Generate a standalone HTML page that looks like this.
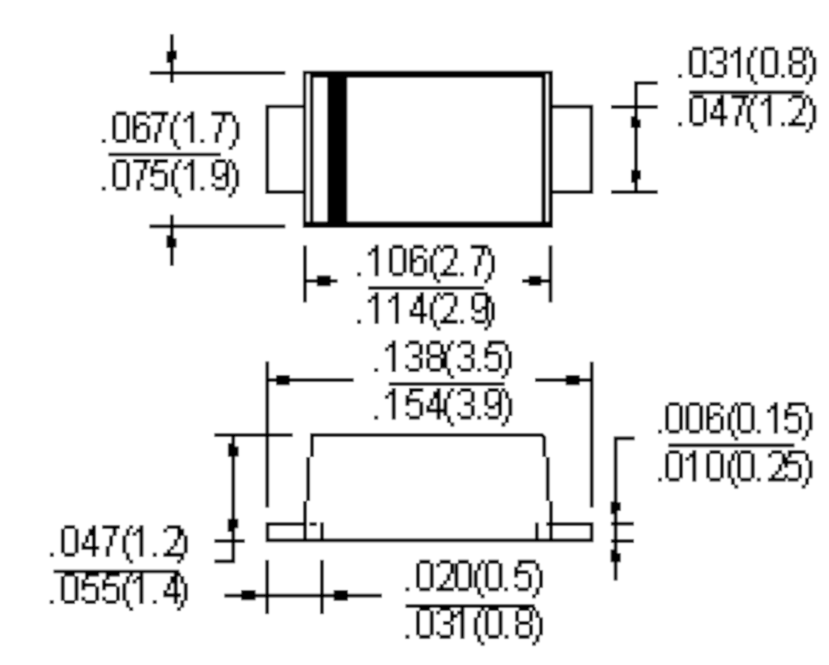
<!DOCTYPE html>
<html><head><meta charset="utf-8"><style>
html,body{margin:0;padding:0;background:#fff;width:829px;height:665px;overflow:hidden}
svg{display:block}
</style></head><body>
<svg width="829" height="665" viewBox="0 0 829 665">
<defs>
<g id="L" stroke-linejoin="miter" stroke-linecap="butt">
<polyline points="171.8,34.2 171.8,83"/>
<polyline points="149.8,72.8 285.3,72.8"/>
<polyline points="149.5,226.3 285.3,226.3"/>
<polyline points="171.8,214.7 171.8,265.8"/>
<polyline points="108.5,154.5 221,154.5"/>
<polyline points="304.5,106.5 267.3,106.5 267.3,192.1 304.5,192.1"/>
<polyline points="551,106.7 591.4,106.7 591.4,192.1 551,192.1"/>
<polyline points="636,192.2 636,83 657.7,83"/>
<polyline points="611.1,106.9 657.7,106.9"/>
<polyline points="611.1,192.2 657.7,192.2"/>
<polyline points="689.2,92.4 804.3,92.4"/>
<polyline points="304.9,245.5 304.9,302.4"/>
<polyline points="550.5,245.5 550.5,302.4"/>
<polyline points="304.9,281 337.5,281"/>
<polyline points="522,281 550.5,281"/>
<polyline points="368.2,288 484.2,288"/>
<polyline points="267.3,361.4 267.3,507.4"/>
<polyline points="591.7,361.8 591.7,507.4"/>
<polyline points="267.3,380.2 353.6,380.2"/>
<polyline points="535,380.2 591.7,380.2"/>
<polyline points="388.8,384 504.6,384"/>
<polyline points="312,457 312,435.1 542,435.1 544.3,437.4 544.3,457"/>
<polyline points="308.2,457 308.2,501"/>
<polyline points="305,501 305,540.4"/>
<polyline points="547.7,457 547.7,501"/>
<polyline points="551,501 551,540.4"/>
<polyline points="305,524.2 267.5,524.2 267.5,540.4 591.6,540.4 591.6,524.2 546.3,524.2"/>
<polyline points="309.5,524.2 316.7,524.2"/>
<polyline points="322,522.4 322,540.4"/>
<polyline points="536.8,522.6 536.8,540.4"/>
<polyline points="214.4,435.1 292.6,435.1"/>
<polyline points="214.5,561.4 233.3,561.4 233.3,435.1"/>
<polyline points="214.5,541 244.7,541"/>
<polyline points="53.6,571.5 179.3,571.5"/>
<polyline points="615.6,580.4 615.6,438.4 634.6,438.4"/>
<polyline points="610.9,523.7 633.9,523.7"/>
<polyline points="610.9,541.1 633.9,541.1"/>
<polyline points="668.4,445.3 794.4,445.3"/>
<polyline points="267.2,559.9 267.2,614.1"/>
<polyline points="321.9,559.9 321.9,614.1"/>
<polyline points="224.4,595.6 381.9,595.6"/>
<polyline points="405.6,606.2 534.6,606.2"/>
</g>
<g id="F">
<path d="M166.6 50.900000000000006H171.9V63.099999999999994H166.6zM171.9 50.6H176.9V59.5H171.9zM166.5 235.2H171.5V248.0H166.5zM171.5 238.29999999999998H176.5V247.5H171.5zM302.8 70.7H552.9V74.3H302.8zM302.8 224.4H552.9V227.9H302.8zM302.8 70.7H306.3V227.9H302.8zM548.6 70.7H552.9V227.9H548.6zM309.8 74.0H545.8V77.8H309.8zM302.8 221.4H552.9V224.7H302.8zM309.8 74.0H313.5V224.7H309.8zM541.5 74.0H545.8V224.7H541.5zM327.3 77H347.3V221.6H327.3zM630.8000000000001 116.3H636.0V128.1H630.8000000000001zM636.0 119.4H640.6999999999999V128.1H636.0zM631.0 169.79999999999998H636.0V182.70000000000002H631.0zM636.0 170.2H641.0V179.5H636.0zM316.8 275.6H330.7V286.2H316.8zM528.7 275.7H541.3V285.8H528.7zM276.0 374.9H289.7V385.2H276.0zM565.7 374.9H579.7V385.2H565.7zM227.89999999999998 443.2H233.3V456.8H227.89999999999998zM233.3 446.4H238.60000000000002V456.40000000000003H233.3zM227.7 518.7H233.3V532.0H227.7zM233.3 518.7H238.3V528.3H233.3zM610.6 501.5H615.6V514.3H610.6zM615.6 502.2H620.6999999999999V510.90000000000003H615.6zM610.6 549.6H615.6V562.3H610.6zM615.6 553.0H620.6999999999999V562.3H615.6zM241.2 589.9H255.5V600.3H241.2zM333.7 589.9H348.0V600.8H333.7z"/>
<path d="M101.80 139.15h3.85v3.85h-3.85zM115.75 111.55h10.75v3.85h-10.75zM112.30 115.00h3.85v3.85h-3.85zM126.10 115.00h3.85v3.85h-3.85zM112.30 118.45h3.85v3.85h-3.85zM126.10 118.45h3.85v3.85h-3.85zM112.30 121.90h3.85v3.85h-3.85zM126.10 121.90h3.85v3.85h-3.85zM112.30 125.35h3.85v3.85h-3.85zM126.10 125.35h3.85v3.85h-3.85zM112.30 128.80h3.85v3.85h-3.85zM126.10 128.80h3.85v3.85h-3.85zM112.30 132.25h3.85v3.85h-3.85zM126.10 132.25h3.85v3.85h-3.85zM112.30 135.70h3.85v3.85h-3.85zM126.10 135.70h3.85v3.85h-3.85zM115.75 139.15h10.75v3.85h-10.75zM136.05 111.55h10.75v3.85h-10.75zM132.60 115.00h3.85v3.85h-3.85zM146.40 115.00h3.85v3.85h-3.85zM132.60 118.45h3.85v3.85h-3.85zM132.60 121.90h3.85v3.85h-3.85zM139.50 121.90h7.30v3.85h-7.30zM132.60 125.35h7.30v3.85h-7.30zM146.40 125.35h3.85v3.85h-3.85zM132.60 128.80h3.85v3.85h-3.85zM146.40 128.80h3.85v3.85h-3.85zM132.60 132.25h3.85v3.85h-3.85zM146.40 132.25h3.85v3.85h-3.85zM132.60 135.70h3.85v3.85h-3.85zM146.40 135.70h3.85v3.85h-3.85zM136.05 139.15h10.75v3.85h-10.75zM150.80 111.55h17.65v3.85h-17.65zM161.15 115.00h3.85v3.85h-3.85zM161.15 118.45h3.85v3.85h-3.85zM157.70 121.90h3.85v3.85h-3.85zM157.70 125.35h3.85v3.85h-3.85zM157.70 128.80h3.85v3.85h-3.85zM154.25 132.25h3.85v3.85h-3.85zM154.25 135.70h3.85v3.85h-3.85zM154.25 139.15h3.85v3.85h-3.85zM176.80 111.55h3.85v3.85h-3.85zM173.35 115.00h3.85v3.85h-3.85zM173.35 118.45h3.85v3.85h-3.85zM169.90 121.90h3.85v3.85h-3.85zM169.90 125.35h3.85v3.85h-3.85zM169.90 128.80h3.85v3.85h-3.85zM169.90 132.25h3.85v3.85h-3.85zM169.90 135.70h3.85v3.85h-3.85zM173.35 139.15h3.85v3.85h-3.85zM173.35 142.60h3.85v3.85h-3.85zM176.80 146.05h3.85v3.85h-3.85zM190.40 111.55h3.85v3.85h-3.85zM186.95 115.00h7.30v3.85h-7.30zM183.50 118.45h3.85v3.85h-3.85zM190.40 118.45h3.85v3.85h-3.85zM190.40 121.90h3.85v3.85h-3.85zM190.40 125.35h3.85v3.85h-3.85zM190.40 128.80h3.85v3.85h-3.85zM190.40 132.25h3.85v3.85h-3.85zM190.40 135.70h3.85v3.85h-3.85zM190.40 139.15h3.85v3.85h-3.85zM200.40 139.15h3.85v3.85h-3.85zM211.30 111.55h17.65v3.85h-17.65zM221.65 115.00h3.85v3.85h-3.85zM221.65 118.45h3.85v3.85h-3.85zM218.20 121.90h3.85v3.85h-3.85zM218.20 125.35h3.85v3.85h-3.85zM218.20 128.80h3.85v3.85h-3.85zM214.75 132.25h3.85v3.85h-3.85zM214.75 135.70h3.85v3.85h-3.85zM214.75 139.15h3.85v3.85h-3.85zM228.70 111.55h3.85v3.85h-3.85zM232.15 115.00h3.85v3.85h-3.85zM232.15 118.45h3.85v3.85h-3.85zM235.60 121.90h3.85v3.85h-3.85zM235.60 125.35h3.85v3.85h-3.85zM235.60 128.80h3.85v3.85h-3.85zM235.60 132.25h3.85v3.85h-3.85zM235.60 135.70h3.85v3.85h-3.85zM232.15 139.15h3.85v3.85h-3.85zM232.15 142.60h3.85v3.85h-3.85zM228.70 146.05h3.85v3.85h-3.85z"/>
<path d="M101.80 186.65h3.85v3.85h-3.85zM115.75 159.05h10.75v3.85h-10.75zM112.30 162.50h3.85v3.85h-3.85zM126.10 162.50h3.85v3.85h-3.85zM112.30 165.95h3.85v3.85h-3.85zM126.10 165.95h3.85v3.85h-3.85zM112.30 169.40h3.85v3.85h-3.85zM126.10 169.40h3.85v3.85h-3.85zM112.30 172.85h3.85v3.85h-3.85zM126.10 172.85h3.85v3.85h-3.85zM112.30 176.30h3.85v3.85h-3.85zM126.10 176.30h3.85v3.85h-3.85zM112.30 179.75h3.85v3.85h-3.85zM126.10 179.75h3.85v3.85h-3.85zM112.30 183.20h3.85v3.85h-3.85zM126.10 183.20h3.85v3.85h-3.85zM115.75 186.65h10.75v3.85h-10.75zM133.00 159.05h17.65v3.85h-17.65zM143.35 162.50h3.85v3.85h-3.85zM143.35 165.95h3.85v3.85h-3.85zM139.90 169.40h3.85v3.85h-3.85zM139.90 172.85h3.85v3.85h-3.85zM139.90 176.30h3.85v3.85h-3.85zM136.45 179.75h3.85v3.85h-3.85zM136.45 183.20h3.85v3.85h-3.85zM136.45 186.65h3.85v3.85h-3.85zM153.85 159.05h14.20v3.85h-14.20zM153.85 162.50h3.85v3.85h-3.85zM150.40 165.95h3.85v3.85h-3.85zM150.40 169.40h14.20v3.85h-14.20zM150.40 172.85h3.85v3.85h-3.85zM164.20 172.85h3.85v3.85h-3.85zM164.20 176.30h3.85v3.85h-3.85zM164.20 179.75h3.85v3.85h-3.85zM150.40 183.20h3.85v3.85h-3.85zM164.20 183.20h3.85v3.85h-3.85zM153.85 186.65h10.75v3.85h-10.75zM177.80 159.05h3.85v3.85h-3.85zM174.35 162.50h3.85v3.85h-3.85zM174.35 165.95h3.85v3.85h-3.85zM170.90 169.40h3.85v3.85h-3.85zM170.90 172.85h3.85v3.85h-3.85zM170.90 176.30h3.85v3.85h-3.85zM170.90 179.75h3.85v3.85h-3.85zM170.90 183.20h3.85v3.85h-3.85zM174.35 186.65h3.85v3.85h-3.85zM174.35 190.10h3.85v3.85h-3.85zM177.80 193.55h3.85v3.85h-3.85zM190.50 159.05h3.85v3.85h-3.85zM187.05 162.50h7.30v3.85h-7.30zM183.60 165.95h3.85v3.85h-3.85zM190.50 165.95h3.85v3.85h-3.85zM190.50 169.40h3.85v3.85h-3.85zM190.50 172.85h3.85v3.85h-3.85zM190.50 176.30h3.85v3.85h-3.85zM190.50 179.75h3.85v3.85h-3.85zM190.50 183.20h3.85v3.85h-3.85zM190.50 186.65h3.85v3.85h-3.85zM200.50 186.65h3.85v3.85h-3.85zM214.95 159.05h10.75v3.85h-10.75zM211.50 162.50h3.85v3.85h-3.85zM225.30 162.50h3.85v3.85h-3.85zM211.50 165.95h3.85v3.85h-3.85zM225.30 165.95h3.85v3.85h-3.85zM211.50 169.40h3.85v3.85h-3.85zM225.30 169.40h3.85v3.85h-3.85zM211.50 172.85h3.85v3.85h-3.85zM221.85 172.85h7.30v3.85h-7.30zM214.95 176.30h7.30v3.85h-7.30zM225.30 176.30h3.85v3.85h-3.85zM225.30 179.75h3.85v3.85h-3.85zM211.50 183.20h3.85v3.85h-3.85zM225.30 183.20h3.85v3.85h-3.85zM214.95 186.65h10.75v3.85h-10.75zM228.40 159.05h3.85v3.85h-3.85zM231.85 162.50h3.85v3.85h-3.85zM231.85 165.95h3.85v3.85h-3.85zM235.30 169.40h3.85v3.85h-3.85zM235.30 172.85h3.85v3.85h-3.85zM235.30 176.30h3.85v3.85h-3.85zM235.30 179.75h3.85v3.85h-3.85zM235.30 183.20h3.85v3.85h-3.85zM231.85 186.65h3.85v3.85h-3.85zM231.85 190.10h3.85v3.85h-3.85zM228.40 193.55h3.85v3.85h-3.85z"/>
<path d="M678.20 74.25h3.85v3.85h-3.85zM692.25 46.65h10.75v3.85h-10.75zM688.80 50.10h3.85v3.85h-3.85zM702.60 50.10h3.85v3.85h-3.85zM688.80 53.55h3.85v3.85h-3.85zM702.60 53.55h3.85v3.85h-3.85zM688.80 57.00h3.85v3.85h-3.85zM702.60 57.00h3.85v3.85h-3.85zM688.80 60.45h3.85v3.85h-3.85zM702.60 60.45h3.85v3.85h-3.85zM688.80 63.90h3.85v3.85h-3.85zM702.60 63.90h3.85v3.85h-3.85zM688.80 67.35h3.85v3.85h-3.85zM702.60 67.35h3.85v3.85h-3.85zM688.80 70.80h3.85v3.85h-3.85zM702.60 70.80h3.85v3.85h-3.85zM692.25 74.25h10.75v3.85h-10.75zM712.95 46.65h10.75v3.85h-10.75zM709.50 50.10h3.85v3.85h-3.85zM723.30 50.10h3.85v3.85h-3.85zM723.30 53.55h3.85v3.85h-3.85zM723.30 57.00h3.85v3.85h-3.85zM716.40 60.45h7.30v3.85h-7.30zM723.30 63.90h3.85v3.85h-3.85zM723.30 67.35h3.85v3.85h-3.85zM709.50 70.80h3.85v3.85h-3.85zM723.30 70.80h3.85v3.85h-3.85zM712.95 74.25h10.75v3.85h-10.75zM737.10 46.65h3.85v3.85h-3.85zM733.65 50.10h7.30v3.85h-7.30zM730.20 53.55h3.85v3.85h-3.85zM737.10 53.55h3.85v3.85h-3.85zM737.10 57.00h3.85v3.85h-3.85zM737.10 60.45h3.85v3.85h-3.85zM737.10 63.90h3.85v3.85h-3.85zM737.10 67.35h3.85v3.85h-3.85zM737.10 70.80h3.85v3.85h-3.85zM737.10 74.25h3.85v3.85h-3.85zM753.70 46.65h3.85v3.85h-3.85zM750.25 50.10h3.85v3.85h-3.85zM750.25 53.55h3.85v3.85h-3.85zM746.80 57.00h3.85v3.85h-3.85zM746.80 60.45h3.85v3.85h-3.85zM746.80 63.90h3.85v3.85h-3.85zM746.80 67.35h3.85v3.85h-3.85zM746.80 70.80h3.85v3.85h-3.85zM750.25 74.25h3.85v3.85h-3.85zM750.25 77.70h3.85v3.85h-3.85zM753.70 81.15h3.85v3.85h-3.85zM764.15 46.65h10.75v3.85h-10.75zM760.70 50.10h3.85v3.85h-3.85zM774.50 50.10h3.85v3.85h-3.85zM760.70 53.55h3.85v3.85h-3.85zM774.50 53.55h3.85v3.85h-3.85zM760.70 57.00h3.85v3.85h-3.85zM774.50 57.00h3.85v3.85h-3.85zM760.70 60.45h3.85v3.85h-3.85zM774.50 60.45h3.85v3.85h-3.85zM760.70 63.90h3.85v3.85h-3.85zM774.50 63.90h3.85v3.85h-3.85zM760.70 67.35h3.85v3.85h-3.85zM774.50 67.35h3.85v3.85h-3.85zM760.70 70.80h3.85v3.85h-3.85zM774.50 70.80h3.85v3.85h-3.85zM764.15 74.25h10.75v3.85h-10.75zM781.00 74.25h3.85v3.85h-3.85zM792.05 46.65h10.75v3.85h-10.75zM788.60 50.10h3.85v3.85h-3.85zM802.40 50.10h3.85v3.85h-3.85zM788.60 53.55h3.85v3.85h-3.85zM802.40 53.55h3.85v3.85h-3.85zM788.60 57.00h3.85v3.85h-3.85zM802.40 57.00h3.85v3.85h-3.85zM792.05 60.45h10.75v3.85h-10.75zM788.60 63.90h3.85v3.85h-3.85zM802.40 63.90h3.85v3.85h-3.85zM788.60 67.35h3.85v3.85h-3.85zM802.40 67.35h3.85v3.85h-3.85zM788.60 70.80h3.85v3.85h-3.85zM802.40 70.80h3.85v3.85h-3.85zM792.05 74.25h10.75v3.85h-10.75zM805.50 46.65h3.85v3.85h-3.85zM808.95 50.10h3.85v3.85h-3.85zM808.95 53.55h3.85v3.85h-3.85zM812.40 57.00h3.85v3.85h-3.85zM812.40 60.45h3.85v3.85h-3.85zM812.40 63.90h3.85v3.85h-3.85zM812.40 67.35h3.85v3.85h-3.85zM812.40 70.80h3.85v3.85h-3.85zM808.95 74.25h3.85v3.85h-3.85zM808.95 77.70h3.85v3.85h-3.85zM805.50 81.15h3.85v3.85h-3.85z"/>
<path d="M678.20 122.30h3.85v3.85h-3.85zM692.65 94.70h10.75v3.85h-10.75zM689.20 98.15h3.85v3.85h-3.85zM703.00 98.15h3.85v3.85h-3.85zM689.20 101.60h3.85v3.85h-3.85zM703.00 101.60h3.85v3.85h-3.85zM689.20 105.05h3.85v3.85h-3.85zM703.00 105.05h3.85v3.85h-3.85zM689.20 108.50h3.85v3.85h-3.85zM703.00 108.50h3.85v3.85h-3.85zM689.20 111.95h3.85v3.85h-3.85zM703.00 111.95h3.85v3.85h-3.85zM689.20 115.40h3.85v3.85h-3.85zM703.00 115.40h3.85v3.85h-3.85zM689.20 118.85h3.85v3.85h-3.85zM703.00 118.85h3.85v3.85h-3.85zM692.65 122.30h10.75v3.85h-10.75zM720.25 94.70h3.85v3.85h-3.85zM716.80 98.15h7.30v3.85h-7.30zM716.80 101.60h7.30v3.85h-7.30zM713.35 105.05h3.85v3.85h-3.85zM720.25 105.05h3.85v3.85h-3.85zM713.35 108.50h3.85v3.85h-3.85zM720.25 108.50h3.85v3.85h-3.85zM709.90 111.95h3.85v3.85h-3.85zM720.25 111.95h3.85v3.85h-3.85zM709.90 115.40h17.65v3.85h-17.65zM720.25 118.85h3.85v3.85h-3.85zM720.25 122.30h3.85v3.85h-3.85zM731.40 94.70h17.65v3.85h-17.65zM741.75 98.15h3.85v3.85h-3.85zM741.75 101.60h3.85v3.85h-3.85zM738.30 105.05h3.85v3.85h-3.85zM738.30 108.50h3.85v3.85h-3.85zM738.30 111.95h3.85v3.85h-3.85zM734.85 115.40h3.85v3.85h-3.85zM734.85 118.85h3.85v3.85h-3.85zM734.85 122.30h3.85v3.85h-3.85zM753.70 94.70h3.85v3.85h-3.85zM750.25 98.15h3.85v3.85h-3.85zM750.25 101.60h3.85v3.85h-3.85zM746.80 105.05h3.85v3.85h-3.85zM746.80 108.50h3.85v3.85h-3.85zM746.80 111.95h3.85v3.85h-3.85zM746.80 115.40h3.85v3.85h-3.85zM746.80 118.85h3.85v3.85h-3.85zM750.25 122.30h3.85v3.85h-3.85zM750.25 125.75h3.85v3.85h-3.85zM753.70 129.20h3.85v3.85h-3.85zM767.60 94.70h3.85v3.85h-3.85zM764.15 98.15h7.30v3.85h-7.30zM760.70 101.60h3.85v3.85h-3.85zM767.60 101.60h3.85v3.85h-3.85zM767.60 105.05h3.85v3.85h-3.85zM767.60 108.50h3.85v3.85h-3.85zM767.60 111.95h3.85v3.85h-3.85zM767.60 115.40h3.85v3.85h-3.85zM767.60 118.85h3.85v3.85h-3.85zM767.60 122.30h3.85v3.85h-3.85zM781.00 122.30h3.85v3.85h-3.85zM791.65 94.70h10.75v3.85h-10.75zM788.20 98.15h3.85v3.85h-3.85zM802.00 98.15h3.85v3.85h-3.85zM802.00 101.60h3.85v3.85h-3.85zM802.00 105.05h3.85v3.85h-3.85zM798.55 108.50h3.85v3.85h-3.85zM798.55 111.95h3.85v3.85h-3.85zM795.10 115.40h3.85v3.85h-3.85zM791.65 118.85h3.85v3.85h-3.85zM788.20 122.30h17.65v3.85h-17.65zM805.50 94.70h3.85v3.85h-3.85zM808.95 98.15h3.85v3.85h-3.85zM808.95 101.60h3.85v3.85h-3.85zM812.40 105.05h3.85v3.85h-3.85zM812.40 108.50h3.85v3.85h-3.85zM812.40 111.95h3.85v3.85h-3.85zM812.40 115.40h3.85v3.85h-3.85zM812.40 118.85h3.85v3.85h-3.85zM808.95 122.30h3.85v3.85h-3.85zM808.95 125.75h3.85v3.85h-3.85zM805.50 129.20h3.85v3.85h-3.85z"/>
<path d="M357.20 272.45h3.85v3.85h-3.85zM374.70 244.85h3.85v3.85h-3.85zM371.25 248.30h7.30v3.85h-7.30zM367.80 251.75h3.85v3.85h-3.85zM374.70 251.75h3.85v3.85h-3.85zM374.70 255.20h3.85v3.85h-3.85zM374.70 258.65h3.85v3.85h-3.85zM374.70 262.10h3.85v3.85h-3.85zM374.70 265.55h3.85v3.85h-3.85zM374.70 269.00h3.85v3.85h-3.85zM374.70 272.45h3.85v3.85h-3.85zM392.35 244.85h10.75v3.85h-10.75zM388.90 248.30h3.85v3.85h-3.85zM402.70 248.30h3.85v3.85h-3.85zM388.90 251.75h3.85v3.85h-3.85zM402.70 251.75h3.85v3.85h-3.85zM388.90 255.20h3.85v3.85h-3.85zM402.70 255.20h3.85v3.85h-3.85zM388.90 258.65h3.85v3.85h-3.85zM402.70 258.65h3.85v3.85h-3.85zM388.90 262.10h3.85v3.85h-3.85zM402.70 262.10h3.85v3.85h-3.85zM388.90 265.55h3.85v3.85h-3.85zM402.70 265.55h3.85v3.85h-3.85zM388.90 269.00h3.85v3.85h-3.85zM402.70 269.00h3.85v3.85h-3.85zM392.35 272.45h10.75v3.85h-10.75zM413.05 244.85h10.75v3.85h-10.75zM409.60 248.30h3.85v3.85h-3.85zM423.40 248.30h3.85v3.85h-3.85zM409.60 251.75h3.85v3.85h-3.85zM409.60 255.20h3.85v3.85h-3.85zM416.50 255.20h7.30v3.85h-7.30zM409.60 258.65h7.30v3.85h-7.30zM423.40 258.65h3.85v3.85h-3.85zM409.60 262.10h3.85v3.85h-3.85zM423.40 262.10h3.85v3.85h-3.85zM409.60 265.55h3.85v3.85h-3.85zM423.40 265.55h3.85v3.85h-3.85zM409.60 269.00h3.85v3.85h-3.85zM423.40 269.00h3.85v3.85h-3.85zM413.05 272.45h10.75v3.85h-10.75zM436.60 244.85h3.85v3.85h-3.85zM433.15 248.30h3.85v3.85h-3.85zM433.15 251.75h3.85v3.85h-3.85zM429.70 255.20h3.85v3.85h-3.85zM429.70 258.65h3.85v3.85h-3.85zM429.70 262.10h3.85v3.85h-3.85zM429.70 265.55h3.85v3.85h-3.85zM429.70 269.00h3.85v3.85h-3.85zM433.15 272.45h3.85v3.85h-3.85zM433.15 275.90h3.85v3.85h-3.85zM436.60 279.35h3.85v3.85h-3.85zM443.35 244.85h10.75v3.85h-10.75zM439.90 248.30h3.85v3.85h-3.85zM453.70 248.30h3.85v3.85h-3.85zM453.70 251.75h3.85v3.85h-3.85zM453.70 255.20h3.85v3.85h-3.85zM450.25 258.65h3.85v3.85h-3.85zM450.25 262.10h3.85v3.85h-3.85zM446.80 265.55h3.85v3.85h-3.85zM443.35 269.00h3.85v3.85h-3.85zM439.90 272.45h17.65v3.85h-17.65zM460.10 272.45h3.85v3.85h-3.85zM470.70 244.85h17.65v3.85h-17.65zM481.05 248.30h3.85v3.85h-3.85zM481.05 251.75h3.85v3.85h-3.85zM477.60 255.20h3.85v3.85h-3.85zM477.60 258.65h3.85v3.85h-3.85zM477.60 262.10h3.85v3.85h-3.85zM474.15 265.55h3.85v3.85h-3.85zM474.15 269.00h3.85v3.85h-3.85zM474.15 272.45h3.85v3.85h-3.85zM484.20 244.85h3.85v3.85h-3.85zM487.65 248.30h3.85v3.85h-3.85zM487.65 251.75h3.85v3.85h-3.85zM491.10 255.20h3.85v3.85h-3.85zM491.10 258.65h3.85v3.85h-3.85zM491.10 262.10h3.85v3.85h-3.85zM491.10 265.55h3.85v3.85h-3.85zM491.10 269.00h3.85v3.85h-3.85zM487.65 272.45h3.85v3.85h-3.85zM487.65 275.90h3.85v3.85h-3.85zM484.20 279.35h3.85v3.85h-3.85z"/>
<path d="M357.20 319.85h3.85v3.85h-3.85zM374.70 292.25h3.85v3.85h-3.85zM371.25 295.70h7.30v3.85h-7.30zM367.80 299.15h3.85v3.85h-3.85zM374.70 299.15h3.85v3.85h-3.85zM374.70 302.60h3.85v3.85h-3.85zM374.70 306.05h3.85v3.85h-3.85zM374.70 309.50h3.85v3.85h-3.85zM374.70 312.95h3.85v3.85h-3.85zM374.70 316.40h3.85v3.85h-3.85zM374.70 319.85h3.85v3.85h-3.85zM394.90 292.25h3.85v3.85h-3.85zM391.45 295.70h7.30v3.85h-7.30zM388.00 299.15h3.85v3.85h-3.85zM394.90 299.15h3.85v3.85h-3.85zM394.90 302.60h3.85v3.85h-3.85zM394.90 306.05h3.85v3.85h-3.85zM394.90 309.50h3.85v3.85h-3.85zM394.90 312.95h3.85v3.85h-3.85zM394.90 316.40h3.85v3.85h-3.85zM394.90 319.85h3.85v3.85h-3.85zM419.95 292.25h3.85v3.85h-3.85zM416.50 295.70h7.30v3.85h-7.30zM416.50 299.15h7.30v3.85h-7.30zM413.05 302.60h3.85v3.85h-3.85zM419.95 302.60h3.85v3.85h-3.85zM413.05 306.05h3.85v3.85h-3.85zM419.95 306.05h3.85v3.85h-3.85zM409.60 309.50h3.85v3.85h-3.85zM419.95 309.50h3.85v3.85h-3.85zM409.60 312.95h17.65v3.85h-17.65zM419.95 316.40h3.85v3.85h-3.85zM419.95 319.85h3.85v3.85h-3.85zM436.60 292.25h3.85v3.85h-3.85zM433.15 295.70h3.85v3.85h-3.85zM433.15 299.15h3.85v3.85h-3.85zM429.70 302.60h3.85v3.85h-3.85zM429.70 306.05h3.85v3.85h-3.85zM429.70 309.50h3.85v3.85h-3.85zM429.70 312.95h3.85v3.85h-3.85zM429.70 316.40h3.85v3.85h-3.85zM433.15 319.85h3.85v3.85h-3.85zM433.15 323.30h3.85v3.85h-3.85zM436.60 326.75h3.85v3.85h-3.85zM443.35 292.25h10.75v3.85h-10.75zM439.90 295.70h3.85v3.85h-3.85zM453.70 295.70h3.85v3.85h-3.85zM453.70 299.15h3.85v3.85h-3.85zM453.70 302.60h3.85v3.85h-3.85zM450.25 306.05h3.85v3.85h-3.85zM450.25 309.50h3.85v3.85h-3.85zM446.80 312.95h3.85v3.85h-3.85zM443.35 316.40h3.85v3.85h-3.85zM439.90 319.85h17.65v3.85h-17.65zM460.20 319.85h3.85v3.85h-3.85zM474.55 292.25h10.75v3.85h-10.75zM471.10 295.70h3.85v3.85h-3.85zM484.90 295.70h3.85v3.85h-3.85zM471.10 299.15h3.85v3.85h-3.85zM484.90 299.15h3.85v3.85h-3.85zM471.10 302.60h3.85v3.85h-3.85zM484.90 302.60h3.85v3.85h-3.85zM471.10 306.05h3.85v3.85h-3.85zM481.45 306.05h7.30v3.85h-7.30zM474.55 309.50h7.30v3.85h-7.30zM484.90 309.50h3.85v3.85h-3.85zM484.90 312.95h3.85v3.85h-3.85zM471.10 316.40h3.85v3.85h-3.85zM484.90 316.40h3.85v3.85h-3.85zM474.55 319.85h10.75v3.85h-10.75zM484.20 292.25h3.85v3.85h-3.85zM487.65 295.70h3.85v3.85h-3.85zM487.65 299.15h3.85v3.85h-3.85zM491.10 302.60h3.85v3.85h-3.85zM491.10 306.05h3.85v3.85h-3.85zM491.10 309.50h3.85v3.85h-3.85zM491.10 312.95h3.85v3.85h-3.85zM491.10 316.40h3.85v3.85h-3.85zM487.65 319.85h3.85v3.85h-3.85zM487.65 323.30h3.85v3.85h-3.85zM484.20 326.75h3.85v3.85h-3.85z"/>
<path d="M374.30 368.15h3.85v3.85h-3.85zM391.80 340.55h3.85v3.85h-3.85zM388.35 344.00h7.30v3.85h-7.30zM384.90 347.45h3.85v3.85h-3.85zM391.80 347.45h3.85v3.85h-3.85zM391.80 350.90h3.85v3.85h-3.85zM391.80 354.35h3.85v3.85h-3.85zM391.80 357.80h3.85v3.85h-3.85zM391.80 361.25h3.85v3.85h-3.85zM391.80 364.70h3.85v3.85h-3.85zM391.80 368.15h3.85v3.85h-3.85zM408.55 340.55h10.75v3.85h-10.75zM405.10 344.00h3.85v3.85h-3.85zM418.90 344.00h3.85v3.85h-3.85zM418.90 347.45h3.85v3.85h-3.85zM418.90 350.90h3.85v3.85h-3.85zM412.00 354.35h7.30v3.85h-7.30zM418.90 357.80h3.85v3.85h-3.85zM418.90 361.25h3.85v3.85h-3.85zM405.10 364.70h3.85v3.85h-3.85zM418.90 364.70h3.85v3.85h-3.85zM408.55 368.15h10.75v3.85h-10.75zM429.75 340.55h10.75v3.85h-10.75zM426.30 344.00h3.85v3.85h-3.85zM440.10 344.00h3.85v3.85h-3.85zM426.30 347.45h3.85v3.85h-3.85zM440.10 347.45h3.85v3.85h-3.85zM426.30 350.90h3.85v3.85h-3.85zM440.10 350.90h3.85v3.85h-3.85zM429.75 354.35h10.75v3.85h-10.75zM426.30 357.80h3.85v3.85h-3.85zM440.10 357.80h3.85v3.85h-3.85zM426.30 361.25h3.85v3.85h-3.85zM440.10 361.25h3.85v3.85h-3.85zM426.30 364.70h3.85v3.85h-3.85zM440.10 364.70h3.85v3.85h-3.85zM429.75 368.15h10.75v3.85h-10.75zM450.40 340.55h3.85v3.85h-3.85zM446.95 344.00h3.85v3.85h-3.85zM446.95 347.45h3.85v3.85h-3.85zM443.50 350.90h3.85v3.85h-3.85zM443.50 354.35h3.85v3.85h-3.85zM443.50 357.80h3.85v3.85h-3.85zM443.50 361.25h3.85v3.85h-3.85zM443.50 364.70h3.85v3.85h-3.85zM446.95 368.15h3.85v3.85h-3.85zM446.95 371.60h3.85v3.85h-3.85zM450.40 375.05h3.85v3.85h-3.85zM460.45 340.55h10.75v3.85h-10.75zM457.00 344.00h3.85v3.85h-3.85zM470.80 344.00h3.85v3.85h-3.85zM470.80 347.45h3.85v3.85h-3.85zM470.80 350.90h3.85v3.85h-3.85zM463.90 354.35h7.30v3.85h-7.30zM470.80 357.80h3.85v3.85h-3.85zM470.80 361.25h3.85v3.85h-3.85zM457.00 364.70h3.85v3.85h-3.85zM470.80 364.70h3.85v3.85h-3.85zM460.45 368.15h10.75v3.85h-10.75zM477.30 368.15h3.85v3.85h-3.85zM487.85 340.55h14.20v3.85h-14.20zM487.85 344.00h3.85v3.85h-3.85zM484.40 347.45h3.85v3.85h-3.85zM484.40 350.90h14.20v3.85h-14.20zM484.40 354.35h3.85v3.85h-3.85zM498.20 354.35h3.85v3.85h-3.85zM498.20 357.80h3.85v3.85h-3.85zM498.20 361.25h3.85v3.85h-3.85zM484.40 364.70h3.85v3.85h-3.85zM498.20 364.70h3.85v3.85h-3.85zM487.85 368.15h10.75v3.85h-10.75zM501.30 340.55h3.85v3.85h-3.85zM504.75 344.00h3.85v3.85h-3.85zM504.75 347.45h3.85v3.85h-3.85zM508.20 350.90h3.85v3.85h-3.85zM508.20 354.35h3.85v3.85h-3.85zM508.20 357.80h3.85v3.85h-3.85zM508.20 361.25h3.85v3.85h-3.85zM508.20 364.70h3.85v3.85h-3.85zM504.75 368.15h3.85v3.85h-3.85zM504.75 371.60h3.85v3.85h-3.85zM501.30 375.05h3.85v3.85h-3.85z"/>
<path d="M374.30 415.65h3.85v3.85h-3.85zM391.80 388.05h3.85v3.85h-3.85zM388.35 391.50h7.30v3.85h-7.30zM384.90 394.95h3.85v3.85h-3.85zM391.80 394.95h3.85v3.85h-3.85zM391.80 398.40h3.85v3.85h-3.85zM391.80 401.85h3.85v3.85h-3.85zM391.80 405.30h3.85v3.85h-3.85zM391.80 408.75h3.85v3.85h-3.85zM391.80 412.20h3.85v3.85h-3.85zM391.80 415.65h3.85v3.85h-3.85zM409.05 388.05h14.20v3.85h-14.20zM409.05 391.50h3.85v3.85h-3.85zM405.60 394.95h3.85v3.85h-3.85zM405.60 398.40h14.20v3.85h-14.20zM405.60 401.85h3.85v3.85h-3.85zM419.40 401.85h3.85v3.85h-3.85zM419.40 405.30h3.85v3.85h-3.85zM419.40 408.75h3.85v3.85h-3.85zM405.60 412.20h3.85v3.85h-3.85zM419.40 412.20h3.85v3.85h-3.85zM409.05 415.65h10.75v3.85h-10.75zM436.65 388.05h3.85v3.85h-3.85zM433.20 391.50h7.30v3.85h-7.30zM433.20 394.95h7.30v3.85h-7.30zM429.75 398.40h3.85v3.85h-3.85zM436.65 398.40h3.85v3.85h-3.85zM429.75 401.85h3.85v3.85h-3.85zM436.65 401.85h3.85v3.85h-3.85zM426.30 405.30h3.85v3.85h-3.85zM436.65 405.30h3.85v3.85h-3.85zM426.30 408.75h17.65v3.85h-17.65zM436.65 412.20h3.85v3.85h-3.85zM436.65 415.65h3.85v3.85h-3.85zM450.40 388.05h3.85v3.85h-3.85zM446.95 391.50h3.85v3.85h-3.85zM446.95 394.95h3.85v3.85h-3.85zM443.50 398.40h3.85v3.85h-3.85zM443.50 401.85h3.85v3.85h-3.85zM443.50 405.30h3.85v3.85h-3.85zM443.50 408.75h3.85v3.85h-3.85zM443.50 412.20h3.85v3.85h-3.85zM446.95 415.65h3.85v3.85h-3.85zM446.95 419.10h3.85v3.85h-3.85zM450.40 422.55h3.85v3.85h-3.85zM460.45 388.05h10.75v3.85h-10.75zM457.00 391.50h3.85v3.85h-3.85zM470.80 391.50h3.85v3.85h-3.85zM470.80 394.95h3.85v3.85h-3.85zM470.80 398.40h3.85v3.85h-3.85zM463.90 401.85h7.30v3.85h-7.30zM470.80 405.30h3.85v3.85h-3.85zM470.80 408.75h3.85v3.85h-3.85zM457.00 412.20h3.85v3.85h-3.85zM470.80 412.20h3.85v3.85h-3.85zM460.45 415.65h10.75v3.85h-10.75zM477.30 415.65h3.85v3.85h-3.85zM487.85 388.05h10.75v3.85h-10.75zM484.40 391.50h3.85v3.85h-3.85zM498.20 391.50h3.85v3.85h-3.85zM484.40 394.95h3.85v3.85h-3.85zM498.20 394.95h3.85v3.85h-3.85zM484.40 398.40h3.85v3.85h-3.85zM498.20 398.40h3.85v3.85h-3.85zM484.40 401.85h3.85v3.85h-3.85zM494.75 401.85h7.30v3.85h-7.30zM487.85 405.30h7.30v3.85h-7.30zM498.20 405.30h3.85v3.85h-3.85zM498.20 408.75h3.85v3.85h-3.85zM484.40 412.20h3.85v3.85h-3.85zM498.20 412.20h3.85v3.85h-3.85zM487.85 415.65h10.75v3.85h-10.75zM501.50 388.05h3.85v3.85h-3.85zM504.95 391.50h3.85v3.85h-3.85zM504.95 394.95h3.85v3.85h-3.85zM508.40 398.40h3.85v3.85h-3.85zM508.40 401.85h3.85v3.85h-3.85zM508.40 405.30h3.85v3.85h-3.85zM508.40 408.75h3.85v3.85h-3.85zM508.40 412.20h3.85v3.85h-3.85zM504.95 415.65h3.85v3.85h-3.85zM504.95 419.10h3.85v3.85h-3.85zM501.50 422.55h3.85v3.85h-3.85z"/>
<path d="M49.90 552.85h3.85v3.85h-3.85zM64.35 525.25h10.75v3.85h-10.75zM60.90 528.70h3.85v3.85h-3.85zM74.70 528.70h3.85v3.85h-3.85zM60.90 532.15h3.85v3.85h-3.85zM74.70 532.15h3.85v3.85h-3.85zM60.90 535.60h3.85v3.85h-3.85zM74.70 535.60h3.85v3.85h-3.85zM60.90 539.05h3.85v3.85h-3.85zM74.70 539.05h3.85v3.85h-3.85zM60.90 542.50h3.85v3.85h-3.85zM74.70 542.50h3.85v3.85h-3.85zM60.90 545.95h3.85v3.85h-3.85zM74.70 545.95h3.85v3.85h-3.85zM60.90 549.40h3.85v3.85h-3.85zM74.70 549.40h3.85v3.85h-3.85zM64.35 552.85h10.75v3.85h-10.75zM91.95 525.25h3.85v3.85h-3.85zM88.50 528.70h7.30v3.85h-7.30zM88.50 532.15h7.30v3.85h-7.30zM85.05 535.60h3.85v3.85h-3.85zM91.95 535.60h3.85v3.85h-3.85zM85.05 539.05h3.85v3.85h-3.85zM91.95 539.05h3.85v3.85h-3.85zM81.60 542.50h3.85v3.85h-3.85zM91.95 542.50h3.85v3.85h-3.85zM81.60 545.95h17.65v3.85h-17.65zM91.95 549.40h3.85v3.85h-3.85zM91.95 552.85h3.85v3.85h-3.85zM102.30 525.25h17.65v3.85h-17.65zM112.65 528.70h3.85v3.85h-3.85zM112.65 532.15h3.85v3.85h-3.85zM109.20 535.60h3.85v3.85h-3.85zM109.20 539.05h3.85v3.85h-3.85zM109.20 542.50h3.85v3.85h-3.85zM105.75 545.95h3.85v3.85h-3.85zM105.75 549.40h3.85v3.85h-3.85zM105.75 552.85h3.85v3.85h-3.85zM129.30 525.25h3.85v3.85h-3.85zM125.85 528.70h3.85v3.85h-3.85zM125.85 532.15h3.85v3.85h-3.85zM122.40 535.60h3.85v3.85h-3.85zM122.40 539.05h3.85v3.85h-3.85zM122.40 542.50h3.85v3.85h-3.85zM122.40 545.95h3.85v3.85h-3.85zM122.40 549.40h3.85v3.85h-3.85zM125.85 552.85h3.85v3.85h-3.85zM125.85 556.30h3.85v3.85h-3.85zM129.30 559.75h3.85v3.85h-3.85zM139.50 525.25h3.85v3.85h-3.85zM136.05 528.70h7.30v3.85h-7.30zM132.60 532.15h3.85v3.85h-3.85zM139.50 532.15h3.85v3.85h-3.85zM139.50 535.60h3.85v3.85h-3.85zM139.50 539.05h3.85v3.85h-3.85zM139.50 542.50h3.85v3.85h-3.85zM139.50 545.95h3.85v3.85h-3.85zM139.50 549.40h3.85v3.85h-3.85zM139.50 552.85h3.85v3.85h-3.85zM152.80 552.85h3.85v3.85h-3.85zM166.85 525.25h10.75v3.85h-10.75zM163.40 528.70h3.85v3.85h-3.85zM177.20 528.70h3.85v3.85h-3.85zM177.20 532.15h3.85v3.85h-3.85zM177.20 535.60h3.85v3.85h-3.85zM173.75 539.05h3.85v3.85h-3.85zM173.75 542.50h3.85v3.85h-3.85zM170.30 545.95h3.85v3.85h-3.85zM166.85 549.40h3.85v3.85h-3.85zM163.40 552.85h17.65v3.85h-17.65zM176.90 525.25h3.85v3.85h-3.85zM180.35 528.70h3.85v3.85h-3.85zM180.35 532.15h3.85v3.85h-3.85zM183.80 535.60h3.85v3.85h-3.85zM183.80 539.05h3.85v3.85h-3.85zM183.80 542.50h3.85v3.85h-3.85zM183.80 545.95h3.85v3.85h-3.85zM183.80 549.40h3.85v3.85h-3.85zM180.35 552.85h3.85v3.85h-3.85zM180.35 556.30h3.85v3.85h-3.85zM176.90 559.75h3.85v3.85h-3.85z"/>
<path d="M49.80 600.25h3.85v3.85h-3.85zM64.25 572.65h10.75v3.85h-10.75zM60.80 576.10h3.85v3.85h-3.85zM74.60 576.10h3.85v3.85h-3.85zM60.80 579.55h3.85v3.85h-3.85zM74.60 579.55h3.85v3.85h-3.85zM60.80 583.00h3.85v3.85h-3.85zM74.60 583.00h3.85v3.85h-3.85zM60.80 586.45h3.85v3.85h-3.85zM74.60 586.45h3.85v3.85h-3.85zM60.80 589.90h3.85v3.85h-3.85zM74.60 589.90h3.85v3.85h-3.85zM60.80 593.35h3.85v3.85h-3.85zM74.60 593.35h3.85v3.85h-3.85zM60.80 596.80h3.85v3.85h-3.85zM74.60 596.80h3.85v3.85h-3.85zM64.25 600.25h10.75v3.85h-10.75zM84.95 572.65h14.20v3.85h-14.20zM84.95 576.10h3.85v3.85h-3.85zM81.50 579.55h3.85v3.85h-3.85zM81.50 583.00h14.20v3.85h-14.20zM81.50 586.45h3.85v3.85h-3.85zM95.30 586.45h3.85v3.85h-3.85zM95.30 589.90h3.85v3.85h-3.85zM95.30 593.35h3.85v3.85h-3.85zM81.50 596.80h3.85v3.85h-3.85zM95.30 596.80h3.85v3.85h-3.85zM84.95 600.25h10.75v3.85h-10.75zM105.65 572.65h14.20v3.85h-14.20zM105.65 576.10h3.85v3.85h-3.85zM102.20 579.55h3.85v3.85h-3.85zM102.20 583.00h14.20v3.85h-14.20zM102.20 586.45h3.85v3.85h-3.85zM116.00 586.45h3.85v3.85h-3.85zM116.00 589.90h3.85v3.85h-3.85zM116.00 593.35h3.85v3.85h-3.85zM102.20 596.80h3.85v3.85h-3.85zM116.00 596.80h3.85v3.85h-3.85zM105.65 600.25h10.75v3.85h-10.75zM129.30 572.65h3.85v3.85h-3.85zM125.85 576.10h3.85v3.85h-3.85zM125.85 579.55h3.85v3.85h-3.85zM122.40 583.00h3.85v3.85h-3.85zM122.40 586.45h3.85v3.85h-3.85zM122.40 589.90h3.85v3.85h-3.85zM122.40 593.35h3.85v3.85h-3.85zM122.40 596.80h3.85v3.85h-3.85zM125.85 600.25h3.85v3.85h-3.85zM125.85 603.70h3.85v3.85h-3.85zM129.30 607.15h3.85v3.85h-3.85zM139.50 572.65h3.85v3.85h-3.85zM136.05 576.10h7.30v3.85h-7.30zM132.60 579.55h3.85v3.85h-3.85zM139.50 579.55h3.85v3.85h-3.85zM139.50 583.00h3.85v3.85h-3.85zM139.50 586.45h3.85v3.85h-3.85zM139.50 589.90h3.85v3.85h-3.85zM139.50 593.35h3.85v3.85h-3.85zM139.50 596.80h3.85v3.85h-3.85zM139.50 600.25h3.85v3.85h-3.85zM152.80 600.25h3.85v3.85h-3.85zM173.75 572.65h3.85v3.85h-3.85zM170.30 576.10h7.30v3.85h-7.30zM170.30 579.55h7.30v3.85h-7.30zM166.85 583.00h3.85v3.85h-3.85zM173.75 583.00h3.85v3.85h-3.85zM166.85 586.45h3.85v3.85h-3.85zM173.75 586.45h3.85v3.85h-3.85zM163.40 589.90h3.85v3.85h-3.85zM173.75 589.90h3.85v3.85h-3.85zM163.40 593.35h17.65v3.85h-17.65zM173.75 596.80h3.85v3.85h-3.85zM173.75 600.25h3.85v3.85h-3.85zM176.90 572.65h3.85v3.85h-3.85zM180.35 576.10h3.85v3.85h-3.85zM180.35 579.55h3.85v3.85h-3.85zM183.80 583.00h3.85v3.85h-3.85zM183.80 586.45h3.85v3.85h-3.85zM183.80 589.90h3.85v3.85h-3.85zM183.80 593.35h3.85v3.85h-3.85zM183.80 596.80h3.85v3.85h-3.85zM180.35 600.25h3.85v3.85h-3.85zM180.35 603.70h3.85v3.85h-3.85zM176.90 607.15h3.85v3.85h-3.85z"/>
<path d="M658.00 429.75h3.85v3.85h-3.85zM668.65 402.15h10.75v3.85h-10.75zM665.20 405.60h3.85v3.85h-3.85zM679.00 405.60h3.85v3.85h-3.85zM665.20 409.05h3.85v3.85h-3.85zM679.00 409.05h3.85v3.85h-3.85zM665.20 412.50h3.85v3.85h-3.85zM679.00 412.50h3.85v3.85h-3.85zM665.20 415.95h3.85v3.85h-3.85zM679.00 415.95h3.85v3.85h-3.85zM665.20 419.40h3.85v3.85h-3.85zM679.00 419.40h3.85v3.85h-3.85zM665.20 422.85h3.85v3.85h-3.85zM679.00 422.85h3.85v3.85h-3.85zM665.20 426.30h3.85v3.85h-3.85zM679.00 426.30h3.85v3.85h-3.85zM668.65 429.75h10.75v3.85h-10.75zM688.95 402.15h10.75v3.85h-10.75zM685.50 405.60h3.85v3.85h-3.85zM699.30 405.60h3.85v3.85h-3.85zM685.50 409.05h3.85v3.85h-3.85zM699.30 409.05h3.85v3.85h-3.85zM685.50 412.50h3.85v3.85h-3.85zM699.30 412.50h3.85v3.85h-3.85zM685.50 415.95h3.85v3.85h-3.85zM699.30 415.95h3.85v3.85h-3.85zM685.50 419.40h3.85v3.85h-3.85zM699.30 419.40h3.85v3.85h-3.85zM685.50 422.85h3.85v3.85h-3.85zM699.30 422.85h3.85v3.85h-3.85zM685.50 426.30h3.85v3.85h-3.85zM699.30 426.30h3.85v3.85h-3.85zM688.95 429.75h10.75v3.85h-10.75zM709.65 402.15h10.75v3.85h-10.75zM706.20 405.60h3.85v3.85h-3.85zM720.00 405.60h3.85v3.85h-3.85zM706.20 409.05h3.85v3.85h-3.85zM706.20 412.50h3.85v3.85h-3.85zM713.10 412.50h7.30v3.85h-7.30zM706.20 415.95h7.30v3.85h-7.30zM720.00 415.95h3.85v3.85h-3.85zM706.20 419.40h3.85v3.85h-3.85zM720.00 419.40h3.85v3.85h-3.85zM706.20 422.85h3.85v3.85h-3.85zM720.00 422.85h3.85v3.85h-3.85zM706.20 426.30h3.85v3.85h-3.85zM720.00 426.30h3.85v3.85h-3.85zM709.65 429.75h10.75v3.85h-10.75zM734.40 402.15h3.85v3.85h-3.85zM730.95 405.60h3.85v3.85h-3.85zM730.95 409.05h3.85v3.85h-3.85zM727.50 412.50h3.85v3.85h-3.85zM727.50 415.95h3.85v3.85h-3.85zM727.50 419.40h3.85v3.85h-3.85zM727.50 422.85h3.85v3.85h-3.85zM727.50 426.30h3.85v3.85h-3.85zM730.95 429.75h3.85v3.85h-3.85zM730.95 433.20h3.85v3.85h-3.85zM734.40 436.65h3.85v3.85h-3.85zM740.45 402.15h10.75v3.85h-10.75zM737.00 405.60h3.85v3.85h-3.85zM750.80 405.60h3.85v3.85h-3.85zM737.00 409.05h3.85v3.85h-3.85zM750.80 409.05h3.85v3.85h-3.85zM737.00 412.50h3.85v3.85h-3.85zM750.80 412.50h3.85v3.85h-3.85zM737.00 415.95h3.85v3.85h-3.85zM750.80 415.95h3.85v3.85h-3.85zM737.00 419.40h3.85v3.85h-3.85zM750.80 419.40h3.85v3.85h-3.85zM737.00 422.85h3.85v3.85h-3.85zM750.80 422.85h3.85v3.85h-3.85zM737.00 426.30h3.85v3.85h-3.85zM750.80 426.30h3.85v3.85h-3.85zM740.45 429.75h10.75v3.85h-10.75zM756.80 429.75h3.85v3.85h-3.85zM773.80 402.15h3.85v3.85h-3.85zM770.35 405.60h7.30v3.85h-7.30zM766.90 409.05h3.85v3.85h-3.85zM773.80 409.05h3.85v3.85h-3.85zM773.80 412.50h3.85v3.85h-3.85zM773.80 415.95h3.85v3.85h-3.85zM773.80 419.40h3.85v3.85h-3.85zM773.80 422.85h3.85v3.85h-3.85zM773.80 426.30h3.85v3.85h-3.85zM773.80 429.75h3.85v3.85h-3.85zM787.75 402.15h14.20v3.85h-14.20zM787.75 405.60h3.85v3.85h-3.85zM784.30 409.05h3.85v3.85h-3.85zM784.30 412.50h14.20v3.85h-14.20zM784.30 415.95h3.85v3.85h-3.85zM798.10 415.95h3.85v3.85h-3.85zM798.10 419.40h3.85v3.85h-3.85zM798.10 422.85h3.85v3.85h-3.85zM784.30 426.30h3.85v3.85h-3.85zM798.10 426.30h3.85v3.85h-3.85zM787.75 429.75h10.75v3.85h-10.75zM801.70 402.15h3.85v3.85h-3.85zM805.15 405.60h3.85v3.85h-3.85zM805.15 409.05h3.85v3.85h-3.85zM808.60 412.50h3.85v3.85h-3.85zM808.60 415.95h3.85v3.85h-3.85zM808.60 419.40h3.85v3.85h-3.85zM808.60 422.85h3.85v3.85h-3.85zM808.60 426.30h3.85v3.85h-3.85zM805.15 429.75h3.85v3.85h-3.85zM805.15 433.20h3.85v3.85h-3.85zM801.70 436.65h3.85v3.85h-3.85z"/>
<path d="M658.00 477.75h3.85v3.85h-3.85zM668.65 450.15h10.75v3.85h-10.75zM665.20 453.60h3.85v3.85h-3.85zM679.00 453.60h3.85v3.85h-3.85zM665.20 457.05h3.85v3.85h-3.85zM679.00 457.05h3.85v3.85h-3.85zM665.20 460.50h3.85v3.85h-3.85zM679.00 460.50h3.85v3.85h-3.85zM665.20 463.95h3.85v3.85h-3.85zM679.00 463.95h3.85v3.85h-3.85zM665.20 467.40h3.85v3.85h-3.85zM679.00 467.40h3.85v3.85h-3.85zM665.20 470.85h3.85v3.85h-3.85zM679.00 470.85h3.85v3.85h-3.85zM665.20 474.30h3.85v3.85h-3.85zM679.00 474.30h3.85v3.85h-3.85zM668.65 477.75h10.75v3.85h-10.75zM692.40 450.15h3.85v3.85h-3.85zM688.95 453.60h7.30v3.85h-7.30zM685.50 457.05h3.85v3.85h-3.85zM692.40 457.05h3.85v3.85h-3.85zM692.40 460.50h3.85v3.85h-3.85zM692.40 463.95h3.85v3.85h-3.85zM692.40 467.40h3.85v3.85h-3.85zM692.40 470.85h3.85v3.85h-3.85zM692.40 474.30h3.85v3.85h-3.85zM692.40 477.75h3.85v3.85h-3.85zM709.65 450.15h10.75v3.85h-10.75zM706.20 453.60h3.85v3.85h-3.85zM720.00 453.60h3.85v3.85h-3.85zM706.20 457.05h3.85v3.85h-3.85zM720.00 457.05h3.85v3.85h-3.85zM706.20 460.50h3.85v3.85h-3.85zM720.00 460.50h3.85v3.85h-3.85zM706.20 463.95h3.85v3.85h-3.85zM720.00 463.95h3.85v3.85h-3.85zM706.20 467.40h3.85v3.85h-3.85zM720.00 467.40h3.85v3.85h-3.85zM706.20 470.85h3.85v3.85h-3.85zM720.00 470.85h3.85v3.85h-3.85zM706.20 474.30h3.85v3.85h-3.85zM720.00 474.30h3.85v3.85h-3.85zM709.65 477.75h10.75v3.85h-10.75zM734.40 450.15h3.85v3.85h-3.85zM730.95 453.60h3.85v3.85h-3.85zM730.95 457.05h3.85v3.85h-3.85zM727.50 460.50h3.85v3.85h-3.85zM727.50 463.95h3.85v3.85h-3.85zM727.50 467.40h3.85v3.85h-3.85zM727.50 470.85h3.85v3.85h-3.85zM727.50 474.30h3.85v3.85h-3.85zM730.95 477.75h3.85v3.85h-3.85zM730.95 481.20h3.85v3.85h-3.85zM734.40 484.65h3.85v3.85h-3.85zM740.45 450.15h10.75v3.85h-10.75zM737.00 453.60h3.85v3.85h-3.85zM750.80 453.60h3.85v3.85h-3.85zM737.00 457.05h3.85v3.85h-3.85zM750.80 457.05h3.85v3.85h-3.85zM737.00 460.50h3.85v3.85h-3.85zM750.80 460.50h3.85v3.85h-3.85zM737.00 463.95h3.85v3.85h-3.85zM750.80 463.95h3.85v3.85h-3.85zM737.00 467.40h3.85v3.85h-3.85zM750.80 467.40h3.85v3.85h-3.85zM737.00 470.85h3.85v3.85h-3.85zM750.80 470.85h3.85v3.85h-3.85zM737.00 474.30h3.85v3.85h-3.85zM750.80 474.30h3.85v3.85h-3.85zM740.45 477.75h10.75v3.85h-10.75zM756.80 477.75h3.85v3.85h-3.85zM771.35 450.15h10.75v3.85h-10.75zM767.90 453.60h3.85v3.85h-3.85zM781.70 453.60h3.85v3.85h-3.85zM781.70 457.05h3.85v3.85h-3.85zM781.70 460.50h3.85v3.85h-3.85zM778.25 463.95h3.85v3.85h-3.85zM778.25 467.40h3.85v3.85h-3.85zM774.80 470.85h3.85v3.85h-3.85zM771.35 474.30h3.85v3.85h-3.85zM767.90 477.75h17.65v3.85h-17.65zM787.75 450.15h14.20v3.85h-14.20zM787.75 453.60h3.85v3.85h-3.85zM784.30 457.05h3.85v3.85h-3.85zM784.30 460.50h14.20v3.85h-14.20zM784.30 463.95h3.85v3.85h-3.85zM798.10 463.95h3.85v3.85h-3.85zM798.10 467.40h3.85v3.85h-3.85zM798.10 470.85h3.85v3.85h-3.85zM784.30 474.30h3.85v3.85h-3.85zM798.10 474.30h3.85v3.85h-3.85zM787.75 477.75h10.75v3.85h-10.75zM801.70 450.15h3.85v3.85h-3.85zM805.15 453.60h3.85v3.85h-3.85zM805.15 457.05h3.85v3.85h-3.85zM808.60 460.50h3.85v3.85h-3.85zM808.60 463.95h3.85v3.85h-3.85zM808.60 467.40h3.85v3.85h-3.85zM808.60 470.85h3.85v3.85h-3.85zM808.60 474.30h3.85v3.85h-3.85zM805.15 477.75h3.85v3.85h-3.85zM805.15 481.20h3.85v3.85h-3.85zM801.70 484.65h3.85v3.85h-3.85z"/>
<path d="M405.50 587.45h3.85v3.85h-3.85zM419.45 559.85h10.75v3.85h-10.75zM416.00 563.30h3.85v3.85h-3.85zM429.80 563.30h3.85v3.85h-3.85zM416.00 566.75h3.85v3.85h-3.85zM429.80 566.75h3.85v3.85h-3.85zM416.00 570.20h3.85v3.85h-3.85zM429.80 570.20h3.85v3.85h-3.85zM416.00 573.65h3.85v3.85h-3.85zM429.80 573.65h3.85v3.85h-3.85zM416.00 577.10h3.85v3.85h-3.85zM429.80 577.10h3.85v3.85h-3.85zM416.00 580.55h3.85v3.85h-3.85zM429.80 580.55h3.85v3.85h-3.85zM416.00 584.00h3.85v3.85h-3.85zM429.80 584.00h3.85v3.85h-3.85zM419.45 587.45h10.75v3.85h-10.75zM439.75 559.85h10.75v3.85h-10.75zM436.30 563.30h3.85v3.85h-3.85zM450.10 563.30h3.85v3.85h-3.85zM450.10 566.75h3.85v3.85h-3.85zM450.10 570.20h3.85v3.85h-3.85zM446.65 573.65h3.85v3.85h-3.85zM446.65 577.10h3.85v3.85h-3.85zM443.20 580.55h3.85v3.85h-3.85zM439.75 584.00h3.85v3.85h-3.85zM436.30 587.45h17.65v3.85h-17.65zM457.95 559.85h10.75v3.85h-10.75zM454.50 563.30h3.85v3.85h-3.85zM468.30 563.30h3.85v3.85h-3.85zM454.50 566.75h3.85v3.85h-3.85zM468.30 566.75h3.85v3.85h-3.85zM454.50 570.20h3.85v3.85h-3.85zM468.30 570.20h3.85v3.85h-3.85zM454.50 573.65h3.85v3.85h-3.85zM468.30 573.65h3.85v3.85h-3.85zM454.50 577.10h3.85v3.85h-3.85zM468.30 577.10h3.85v3.85h-3.85zM454.50 580.55h3.85v3.85h-3.85zM468.30 580.55h3.85v3.85h-3.85zM454.50 584.00h3.85v3.85h-3.85zM468.30 584.00h3.85v3.85h-3.85zM457.95 587.45h10.75v3.85h-10.75zM480.70 559.85h3.85v3.85h-3.85zM477.25 563.30h3.85v3.85h-3.85zM477.25 566.75h3.85v3.85h-3.85zM473.80 570.20h3.85v3.85h-3.85zM473.80 573.65h3.85v3.85h-3.85zM473.80 577.10h3.85v3.85h-3.85zM473.80 580.55h3.85v3.85h-3.85zM473.80 584.00h3.85v3.85h-3.85zM477.25 587.45h3.85v3.85h-3.85zM477.25 590.90h3.85v3.85h-3.85zM480.70 594.35h3.85v3.85h-3.85zM488.25 559.85h10.75v3.85h-10.75zM484.80 563.30h3.85v3.85h-3.85zM498.60 563.30h3.85v3.85h-3.85zM484.80 566.75h3.85v3.85h-3.85zM498.60 566.75h3.85v3.85h-3.85zM484.80 570.20h3.85v3.85h-3.85zM498.60 570.20h3.85v3.85h-3.85zM484.80 573.65h3.85v3.85h-3.85zM498.60 573.65h3.85v3.85h-3.85zM484.80 577.10h3.85v3.85h-3.85zM498.60 577.10h3.85v3.85h-3.85zM484.80 580.55h3.85v3.85h-3.85zM498.60 580.55h3.85v3.85h-3.85zM484.80 584.00h3.85v3.85h-3.85zM498.60 584.00h3.85v3.85h-3.85zM488.25 587.45h10.75v3.85h-10.75zM504.20 587.45h3.85v3.85h-3.85zM517.75 559.85h14.20v3.85h-14.20zM517.75 563.30h3.85v3.85h-3.85zM514.30 566.75h3.85v3.85h-3.85zM514.30 570.20h14.20v3.85h-14.20zM514.30 573.65h3.85v3.85h-3.85zM528.10 573.65h3.85v3.85h-3.85zM528.10 577.10h3.85v3.85h-3.85zM528.10 580.55h3.85v3.85h-3.85zM514.30 584.00h3.85v3.85h-3.85zM528.10 584.00h3.85v3.85h-3.85zM517.75 587.45h10.75v3.85h-10.75zM532.10 559.85h3.85v3.85h-3.85zM535.55 563.30h3.85v3.85h-3.85zM535.55 566.75h3.85v3.85h-3.85zM539.00 570.20h3.85v3.85h-3.85zM539.00 573.65h3.85v3.85h-3.85zM539.00 577.10h3.85v3.85h-3.85zM539.00 580.55h3.85v3.85h-3.85zM539.00 584.00h3.85v3.85h-3.85zM535.55 587.45h3.85v3.85h-3.85zM535.55 590.90h3.85v3.85h-3.85zM532.10 594.35h3.85v3.85h-3.85z"/>
<path d="M405.50 634.85h3.85v3.85h-3.85zM419.45 607.25h10.75v3.85h-10.75zM416.00 610.70h3.85v3.85h-3.85zM429.80 610.70h3.85v3.85h-3.85zM416.00 614.15h3.85v3.85h-3.85zM429.80 614.15h3.85v3.85h-3.85zM416.00 617.60h3.85v3.85h-3.85zM429.80 617.60h3.85v3.85h-3.85zM416.00 621.05h3.85v3.85h-3.85zM429.80 621.05h3.85v3.85h-3.85zM416.00 624.50h3.85v3.85h-3.85zM429.80 624.50h3.85v3.85h-3.85zM416.00 627.95h3.85v3.85h-3.85zM429.80 627.95h3.85v3.85h-3.85zM416.00 631.40h3.85v3.85h-3.85zM429.80 631.40h3.85v3.85h-3.85zM419.45 634.85h10.75v3.85h-10.75zM439.75 607.25h10.75v3.85h-10.75zM436.30 610.70h3.85v3.85h-3.85zM450.10 610.70h3.85v3.85h-3.85zM450.10 614.15h3.85v3.85h-3.85zM450.10 617.60h3.85v3.85h-3.85zM443.20 621.05h7.30v3.85h-7.30zM450.10 624.50h3.85v3.85h-3.85zM450.10 627.95h3.85v3.85h-3.85zM436.30 631.40h3.85v3.85h-3.85zM450.10 631.40h3.85v3.85h-3.85zM439.75 634.85h10.75v3.85h-10.75zM460.50 607.25h3.85v3.85h-3.85zM457.05 610.70h7.30v3.85h-7.30zM453.60 614.15h3.85v3.85h-3.85zM460.50 614.15h3.85v3.85h-3.85zM460.50 617.60h3.85v3.85h-3.85zM460.50 621.05h3.85v3.85h-3.85zM460.50 624.50h3.85v3.85h-3.85zM460.50 627.95h3.85v3.85h-3.85zM460.50 631.40h3.85v3.85h-3.85zM460.50 634.85h3.85v3.85h-3.85zM480.70 607.25h3.85v3.85h-3.85zM477.25 610.70h3.85v3.85h-3.85zM477.25 614.15h3.85v3.85h-3.85zM473.80 617.60h3.85v3.85h-3.85zM473.80 621.05h3.85v3.85h-3.85zM473.80 624.50h3.85v3.85h-3.85zM473.80 627.95h3.85v3.85h-3.85zM473.80 631.40h3.85v3.85h-3.85zM477.25 634.85h3.85v3.85h-3.85zM477.25 638.30h3.85v3.85h-3.85zM480.70 641.75h3.85v3.85h-3.85zM488.25 607.25h10.75v3.85h-10.75zM484.80 610.70h3.85v3.85h-3.85zM498.60 610.70h3.85v3.85h-3.85zM484.80 614.15h3.85v3.85h-3.85zM498.60 614.15h3.85v3.85h-3.85zM484.80 617.60h3.85v3.85h-3.85zM498.60 617.60h3.85v3.85h-3.85zM484.80 621.05h3.85v3.85h-3.85zM498.60 621.05h3.85v3.85h-3.85zM484.80 624.50h3.85v3.85h-3.85zM498.60 624.50h3.85v3.85h-3.85zM484.80 627.95h3.85v3.85h-3.85zM498.60 627.95h3.85v3.85h-3.85zM484.80 631.40h3.85v3.85h-3.85zM498.60 631.40h3.85v3.85h-3.85zM488.25 634.85h10.75v3.85h-10.75zM504.60 634.85h3.85v3.85h-3.85zM518.65 607.25h10.75v3.85h-10.75zM515.20 610.70h3.85v3.85h-3.85zM529.00 610.70h3.85v3.85h-3.85zM515.20 614.15h3.85v3.85h-3.85zM529.00 614.15h3.85v3.85h-3.85zM515.20 617.60h3.85v3.85h-3.85zM529.00 617.60h3.85v3.85h-3.85zM518.65 621.05h10.75v3.85h-10.75zM515.20 624.50h3.85v3.85h-3.85zM529.00 624.50h3.85v3.85h-3.85zM515.20 627.95h3.85v3.85h-3.85zM529.00 627.95h3.85v3.85h-3.85zM515.20 631.40h3.85v3.85h-3.85zM529.00 631.40h3.85v3.85h-3.85zM518.65 634.85h10.75v3.85h-10.75zM532.10 607.25h3.85v3.85h-3.85zM535.55 610.70h3.85v3.85h-3.85zM535.55 614.15h3.85v3.85h-3.85zM539.00 617.60h3.85v3.85h-3.85zM539.00 621.05h3.85v3.85h-3.85zM539.00 624.50h3.85v3.85h-3.85zM539.00 627.95h3.85v3.85h-3.85zM539.00 631.40h3.85v3.85h-3.85zM535.55 634.85h3.85v3.85h-3.85zM535.55 638.30h3.85v3.85h-3.85zM532.10 641.75h3.85v3.85h-3.85z"/>
</g>
</defs>
<filter id="c" x="0" y="0" width="829" height="665" filterUnits="userSpaceOnUse"><feConvolveMatrix order="5" kernelMatrix="0.00009 0.00198 0.00548 0.00198 0.00009 0.00198 0.04220 0.11707 0.04220 0.00198 0.00548 0.11707 0.32480 0.11707 0.00548 0.00198 0.04220 0.11707 0.04220 0.00198 0.00009 0.00198 0.00548 0.00198 0.00009" edgeMode="none" preserveAlpha="false"/></filter>
<g filter="url(#c)">
<rect x="0" y="0" width="829" height="665" fill="#fff"/>
<use href="#L" fill="none" stroke="#000" stroke-width="3.7"/>
<use href="#F" fill="#000" stroke="none"/>
</g>
</svg>
</body></html>
